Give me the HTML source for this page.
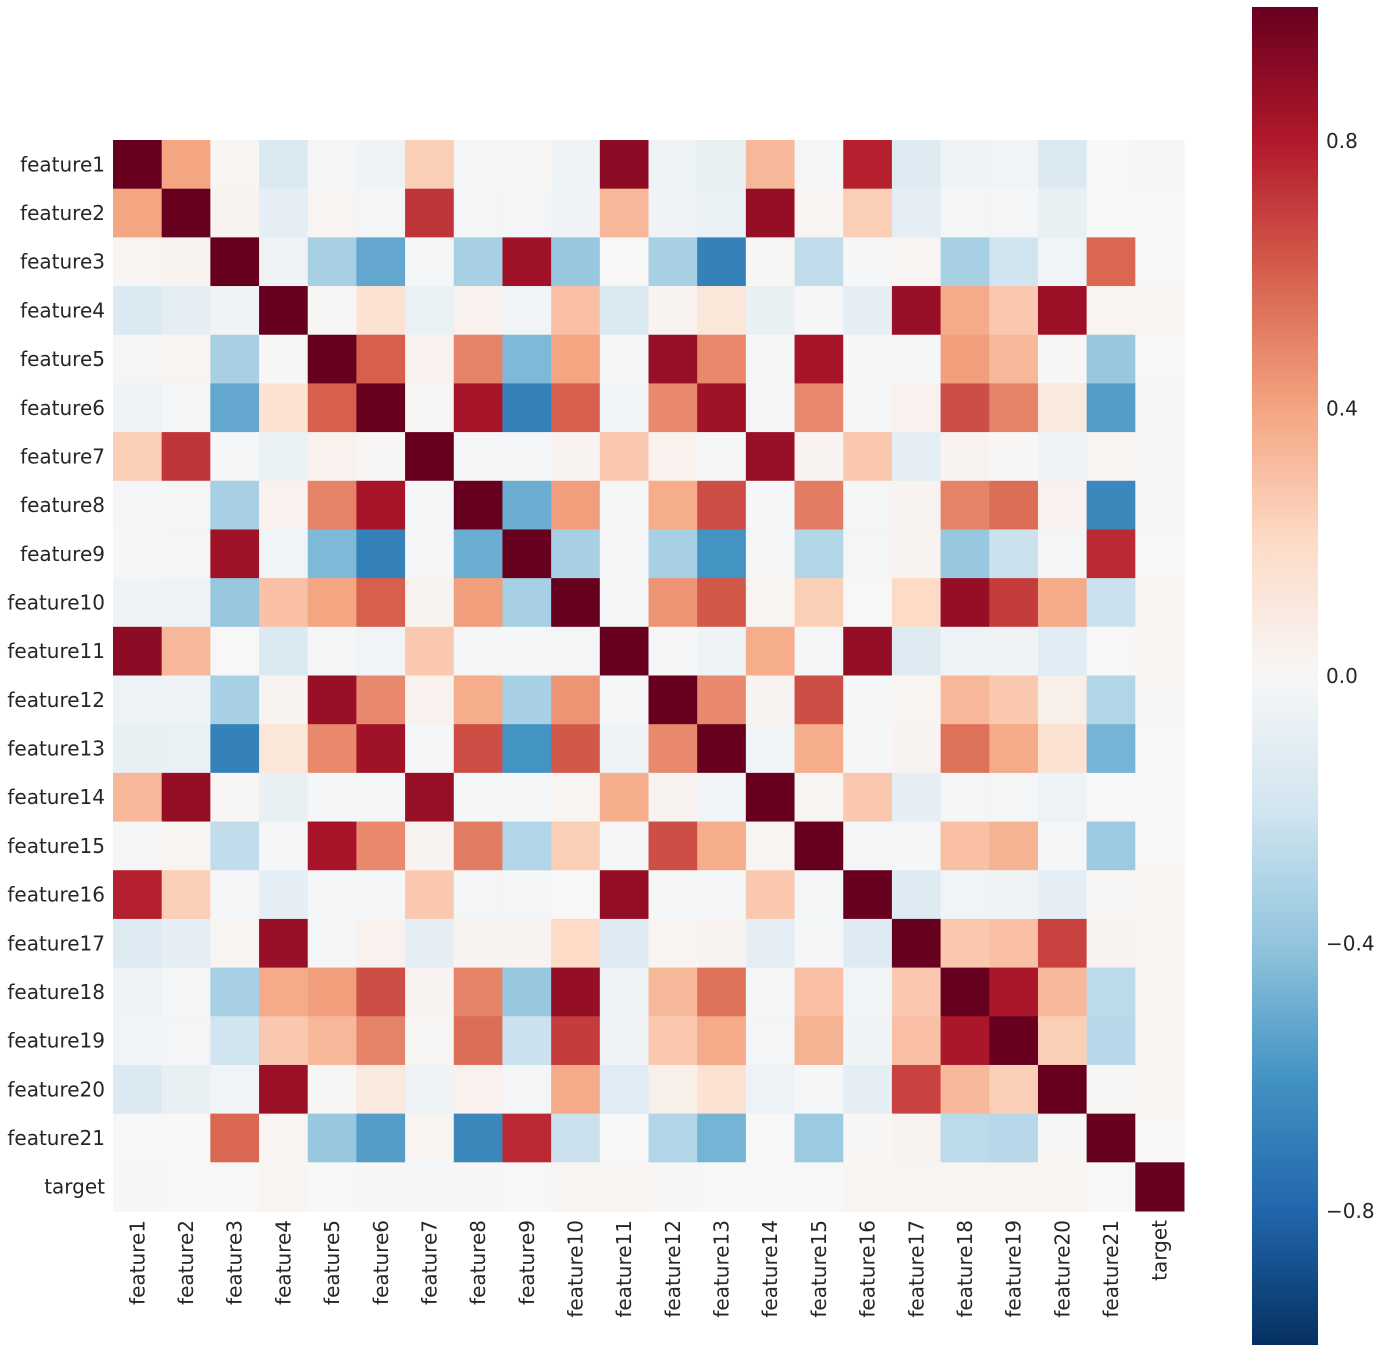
<!DOCTYPE html>
<html><head><meta charset="utf-8"><style>
body{margin:0;background:#fff;}
svg{display:block;font-family:"DejaVu Sans","Liberation Sans",sans-serif;}
</style></head><body>
<svg id="chart" width="1381" height="1353">
<defs><linearGradient id="cbg" x1="0" y1="1" x2="0" y2="0"></linearGradient></defs>
</svg>
<script>
const labels=["feature1","feature2","feature3","feature4","feature5","feature6","feature7","feature8","feature9","feature10","feature11","feature12","feature13","feature14","feature15","feature16","feature17","feature18","feature19","feature20","feature21","target"];
// upper triangle rows (values right of diagonal)
const upper=[
[0.4,0.02,-0.15,-0.02,-0.04,0.25,-0.02,0.01,-0.05,0.9,-0.06,-0.08,0.33,-0.02,0.78,-0.13,-0.05,-0.03,-0.15,0.0,0.01],
[0.03,-0.1,0.02,-0.02,0.72,-0.02,-0.02,-0.04,0.33,-0.04,-0.07,0.88,0.02,0.25,-0.1,-0.02,-0.02,-0.08,0.0,0.0],
[-0.04,-0.33,-0.52,-0.01,-0.33,0.85,-0.38,0.0,-0.33,-0.68,0.01,-0.25,-0.01,0.02,-0.33,-0.2,-0.03,0.58,0.0],
[0.01,0.15,-0.07,0.04,-0.03,0.3,-0.15,0.03,0.12,-0.08,-0.01,-0.1,0.87,0.38,0.27,0.86,0.02,0.02],
[0.6,0.04,0.5,-0.45,0.4,-0.01,0.87,0.48,-0.01,0.83,-0.01,-0.01,0.42,0.33,0.01,-0.38,0.0],
[0.01,0.83,-0.68,0.6,-0.03,0.48,0.85,-0.02,0.48,-0.01,0.04,0.65,0.5,0.1,-0.56,0.01],
[-0.01,-0.01,0.03,0.27,0.04,-0.01,0.87,0.03,0.27,-0.1,0.03,0.01,-0.05,0.02,-0.01],
[-0.5,0.42,-0.02,0.37,0.65,-0.01,0.52,-0.02,0.03,0.5,0.56,0.04,-0.65,0.01],
[-0.33,-0.01,-0.33,-0.6,-0.01,-0.3,-0.02,0.03,-0.38,-0.22,-0.02,0.75,0.0],
[-0.02,0.45,0.62,0.02,0.25,0.0,0.2,0.88,0.7,0.38,-0.22,0.02],
[-0.01,-0.05,0.37,-0.02,0.88,-0.13,-0.05,-0.04,-0.12,0.0,0.02],
[0.48,0.03,0.65,-0.01,0.02,0.33,0.27,0.06,-0.3,0.01],
[-0.03,0.37,-0.01,0.03,0.55,0.38,0.15,-0.47,0.0],
[0.02,0.27,-0.1,-0.02,-0.02,-0.06,0.0,0.0],
[-0.02,-0.01,0.3,0.35,-0.01,-0.37,0.0],
[-0.13,-0.03,-0.04,-0.1,0.01,0.02],
[0.27,0.3,0.68,0.03,0.02],
[0.82,0.33,-0.27,0.02],
[0.25,-0.28,0.02],
[0.01,0.02],
[0.0],
[]
];
const cbTicks=[0.8,0.4,0,-0.4,-0.8];
const stops=["#053061","#2166ac","#4393c3","#92c5de","#d1e5f0","#f7f7f7","#fddbc7","#f4a582","#d6604d","#b2182b","#67001f"];
function hex(h){return [1,3,5].map(i=>parseInt(h.substr(i,2),16));}
function color(v){let t=(Math.max(-1,Math.min(1,v))+1)/2*10;let i=Math.min(9,Math.floor(t));let f=t-i;const a=hex(stops[i]),b=hex(stops[i+1]);return "rgb("+a.map((c,k)=>Math.round(c+(b[k]-c)*f)).join(",")+")";}
const NS="http://www.w3.org/2000/svg";
const svg=document.getElementById("chart");
function mk(tag,attrs,parent){const e=document.createElementNS(NS,tag);for(const k in attrs)e.setAttribute(k,attrs[k]);(parent||svg).appendChild(e);return e;}
const n=labels.length,x0=113,y0=140,W=1071,cs=W/n;
const xs=i=>x0+i*cs, ys=i=>y0+i*cs;
function val(i,j){if(i===j)return 1;if(i>j){const t=i;i=j;j=t;}return upper[i][j-i-1];}
const g=mk("g",{});
for(let i=0;i<n;i++)for(let j=0;j<n;j++){
 const r=mk("rect",{x:xs(j),y:ys(i),width:cs+0.5,height:cs+0.5,fill:color(val(i,j))},g);
 
 
}
for(let i=0;i<n;i++){
 const t=mk("text",{x:105,y:ys(i)+cs/2+7,"text-anchor":"end","font-size":20,fill:"#262626"});
 t.textContent=labels[i];
 
 
 const cx=xs(i)+cs/2+7;
 const u=mk("text",{x:0,y:0,transform:"translate("+cx+",1220) rotate(-90)","text-anchor":"end","font-size":20,fill:"#262626"});
 u.textContent=labels[i];
 
 
}
// colorbar
const grad=document.getElementById("cbg");
stops.forEach((s,k)=>mk("stop",{offset:(k/10),"stop-color":s},grad));
const cbx=1252,cbw=66,cbTop=7,cbBot=1345;
const cy=v=>cbBot-(v+1)/2*(cbBot-cbTop);
const cb=mk("rect",{x:cbx,y:cbTop,width:cbw,height:cbBot-cbTop,fill:"url(#cbg)"});


cbTicks.forEach(v=>{
 const t=mk("text",{x:1326,y:cy(v)+7,"font-size":20,fill:"#262626"});
 t.textContent=(v<0?"\u2212":"")+Math.abs(v).toFixed(1);
 
 
});
</script>
</body></html>
